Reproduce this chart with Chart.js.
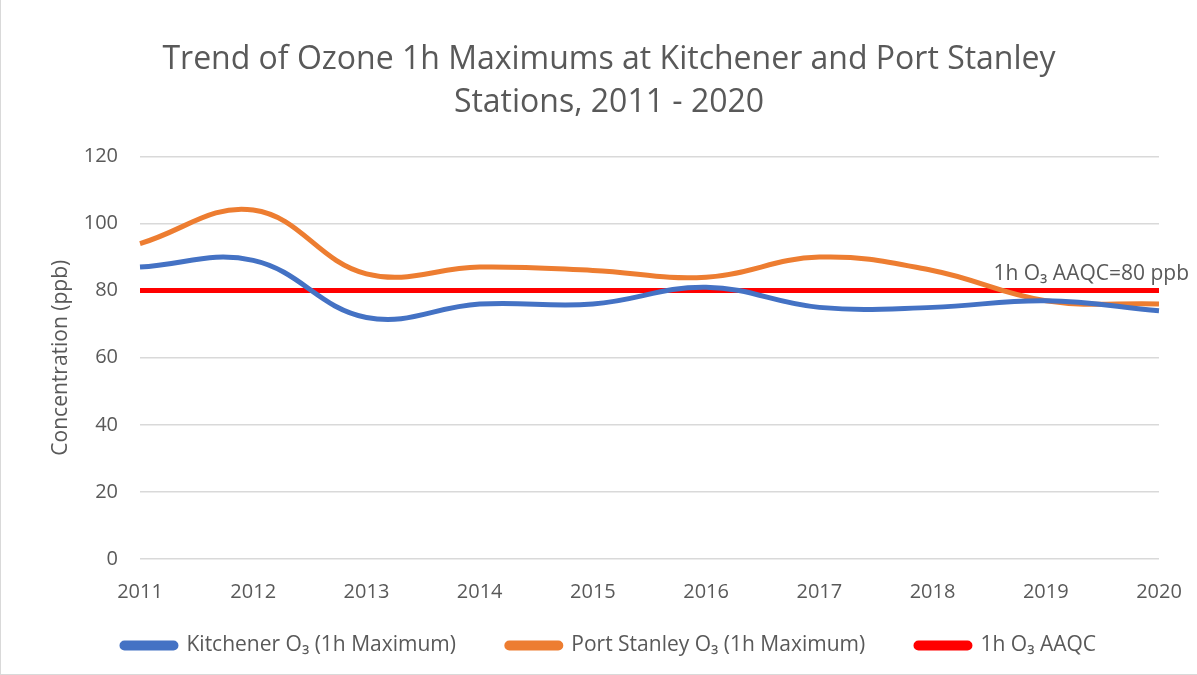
<!DOCTYPE html>
<html>
<head>
<meta charset="utf-8">
<script src="https://cdn.jsdelivr.net/npm/chart.js@4.4.1/dist/chart.umd.min.js"></script>
<style>
  html, body { margin: 0; padding: 0; background: #fff; }
  #wrap { position: relative; width: 1197px; height: 675px; box-sizing: border-box; border-left: 1px solid #d9d9d9; border-bottom: 1px solid #d9d9d9; }
</style>
</head>
<body>
<div id="wrap"><canvas id="one" width="1196" height="674"></canvas></div>
<script>
// years on the x axis
const years = ['2011', '2012', '2013', '2014', '2015', '2016', '2017', '2018', '2019', '2020'];

// ozone 1h maximums (ppb)
const kitchener = [87, 89, 72, 76, 76, 81, 75, 75, 77, 74];
const portStanley = [94, 104, 85, 87, 86, 84, 90, 86, 77, 76];

// AAQC limit
const aaqcValue = 80;
const aaqc = years.map(function () { return aaqcValue; });

const grey = '#595959';
const fontName = '"Open Sans", sans-serif';

// text next to the red line
const aaqcLabel = {
  id: 'aaqcLabel',
  afterDatasetsDraw(chart) {
    const x = chart.scales.x;
    const y = chart.scales.y;
    const c = chart.ctx;
    c.save();
    c.fillStyle = grey;
    c.font = '21px ' + fontName;
    c.textAlign = 'right';
    c.textBaseline = 'alphabetic';
    c.fillText('1h O\u2083 AAQC=80 ppb', x.getPixelForValue(9) + 30, y.getPixelForValue(aaqcValue) - 11);
    c.restore();
  }
};

const ctx = document.getElementById('one');

new Chart(ctx, {
  type: 'line',
  data: {
    labels: years,
    datasets: [{
      label: 'Kitchener O\u2083 (1h Maximum)',
      data: kitchener,
      borderColor: '#4472c4',
      backgroundColor: '#4472c4',
      borderWidth: 5,
      tension: 0.4,
      pointRadius: 0
    }, {
      label: 'Port Stanley O\u2083 (1h Maximum)',
      data: portStanley,
      borderColor: '#ed7d31',
      backgroundColor: '#ed7d31',
      borderWidth: 5,
      tension: 0.4,
      pointRadius: 0
    }, {
      label: '1h O\u2083 AAQC',
      data: aaqc,
      borderColor: '#ff0000',
      backgroundColor: '#ff0000',
      borderWidth: 5,
      pointRadius: 0
    }]
  },
  options: {
    responsive: false,
    animation: false,
    layout: { padding: { left: 58, right: 38, top: 14, bottom: 8 } },
    plugins: {
      title: {
        display: true,
        text: ['Trend of Ozone 1h Maximums at Kitchener and Port Stanley', 'Stations, 2011 - 2020'],
        color: grey,
        font: { family: fontName, size: 32, weight: 'normal', lineHeight: 1.35 },
        padding: { top: 24, bottom: 32 }
      },
      legend: {
        position: 'bottom',
        labels: {
          color: grey,
          font: { family: fontName, size: 21 },
          boxWidth: 54,
          boxHeight: 5,
          useBorderRadius: true,
          borderRadius: 2.5,
          padding: 29,
          // a bit more room between the items, like the original
          generateLabels: function (chart) {
            const items = Chart.defaults.plugins.legend.labels.generateLabels(chart);
            items.forEach(function (it, i) {
              if (i < items.length - 1) it.text += '    ';
            });
            return items;
          }
        }
      },
      tooltip: { enabled: false }
    },
    scales: {
      x: {
        offset: false,
        grid: { display: false },
        border: { display: false },
        ticks: { color: grey, font: { family: fontName, size: 20 }, padding: 13, maxRotation: 0 },
        afterFit: function (scale) { scale.height -= 11; }
      },
      y: {
        min: 0,
        max: 120,
        grid: { color: '#d9d9d9', lineWidth: 1.5, drawTicks: false },
        border: { display: false },
        ticks: { color: grey, font: { family: fontName, size: 20 }, padding: 22, stepSize: 20 },
        title: {
          display: true,
          text: 'Concentration (ppb)',
          color: grey,
          font: { family: fontName, size: 21 },
          padding: { top: -11, bottom: 0 }
        },
        afterFit: function (scale) { scale.width = 81; }
      }
    }
  },
  plugins: [aaqcLabel]
});
</script>
</body>
</html>
